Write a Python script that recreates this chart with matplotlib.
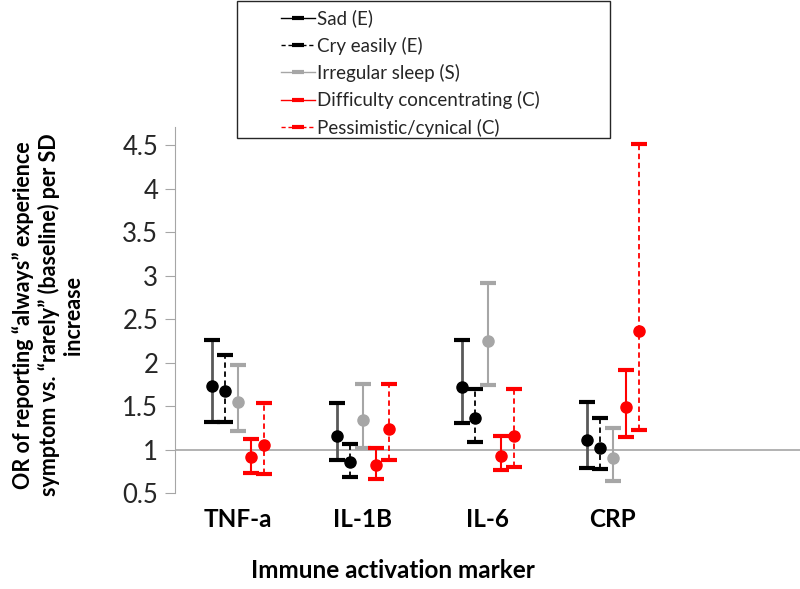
import numpy as np
import matplotlib
matplotlib.use("Agg")
import matplotlib.pyplot as plt
from matplotlib.lines import Line2D
from matplotlib.patches import Rectangle

plt.rcParams['font.family'] = ['Lato', 'DejaVu Sans']

markers = ["TNF-a", "IL-1B", "IL-6", "CRP"]
series = ["Sad (E)", "Cry easily (E)", "Irregular sleep (S)",
          "Difficulty concentrating (C)", "Pessimistic/cynical (C)"]

# odds ratio, lower CI, upper CI  (one row per series, one column per marker)
or_vals = [
    [1.73, 1.15, 1.72, 1.11],
    [1.67, 0.86, 1.36, 1.02],
    [1.55, 1.34, 2.25, 0.90],
    [0.91, 0.82, 0.93, 1.49],
    [1.05, 1.24, 1.16, 2.36],
]
ci_low = [
    [1.32, 0.88, 1.30, 0.79],
    [1.32, 0.68, 1.09, 0.78],
    [1.21, 1.02, 1.74, 0.64],
    [0.73, 0.66, 0.76, 1.14],
    [0.72, 0.88, 0.80, 1.23],
]
ci_high = [
    [2.26, 1.53, 2.26, 1.55],
    [2.09, 1.06, 1.70, 1.36],
    [1.97, 1.75, 2.91, 1.25],
    [1.12, 1.02, 1.15, 1.91],
    [1.54, 1.75, 1.70, 4.52],
]

colors = ["black", "black", "#a6a6a6", "#ff0000", "#ff0000"]
bar_colors = ["#595959", "black", "#a6a6a6", "#ff0000", "#ff0000"]
styles = ["-", (0, (3, 2)), "-", "-", (0, (3, 2))]
widths = [2.0, 1.3, 1.5, 1.5, 1.3]

fig = plt.figure(figsize=(8, 5.89), dpi=100)
ax = fig.add_axes([175 / 800, 1 - 493 / 589, 625 / 800, 366 / 589])

x = np.arange(len(markers))
step = 0.104
for i, name in enumerate(series):
    xs = x + (i - 2) * step
    y = np.array(or_vals[i])
    lo = y - np.array(ci_low[i])
    hi = np.array(ci_high[i]) - y
    eb = ax.errorbar(xs, y, yerr=[lo, hi], fmt="o", color=colors[i],
                     ms=8, ecolor=colors[i], elinewidth=widths[i],
                     capsize=5.5, capthick=3, zorder=3)
    eb[2][0].set_color(bar_colors[i])
    eb[2][0].set_linestyle(styles[i])

ax.axhline(1, color="#a6a6a6", lw=1.2, zorder=1)
ax.set_xlim(-0.5, 4.5)
ax.set_ylim(0.5, 4.71)
ax.set_yticks([0.5, 1, 1.5, 2, 2.5, 3, 3.5, 4, 4.5])
ax.set_yticklabels(["0.5", "1", "1.5", "2", "2.5", "3", "3.5", "4", "4.5"])
ax.set_xticks(x)
ax.set_xticklabels(markers, fontweight="bold", fontsize=17.5)
ax.tick_params(axis="x", length=0, pad=11)
ax.tick_params(axis="y", length=7, color="#a6a6a6", labelsize=18.5,
               labelcolor="#262626", pad=5)
for s in ["top", "right", "bottom"]:
    ax.spines[s].set_visible(False)
ax.spines["left"].set_color("#a6a6a6")

fig.text(393 / 800, 1 - 570 / 589, "Immune activation marker",
         ha="center", va="center", fontsize=17.5, fontweight="bold")
fig.text(48 / 800, 1 - 315 / 589,
         "OR of reporting \u201calways\u201d experience\n"
         "symptom vs. \u201crarely\u201d (baseline) per SD\nincrease",
         rotation=90, ha="center", va="center", multialignment="center",
         fontsize=15.5, fontweight="bold", linespacing=1.2)

handles = [Line2D([], [], color=colors[i],
                  linestyle=styles[i], lw=1.0, marker="_", ms=8, mew=3)
           for i in range(len(series))]
fig.patches.append(Rectangle((237 / 800, 1 - 138 / 589), 373 / 800, 137 / 589,
                             transform=fig.transFigure, fill=False,
                             edgecolor="#262626", lw=1.0))
fig.legend(handles, series, loc="upper left",
           bbox_to_anchor=(270 / 800, 1 + 2 / 589), frameon=False,
           fontsize=13.5, handlelength=1.8, handletextpad=0.1,
           labelspacing=0.5, borderpad=0.1, labelcolor="#262626")

fig.savefig("out.png", dpi=100)
